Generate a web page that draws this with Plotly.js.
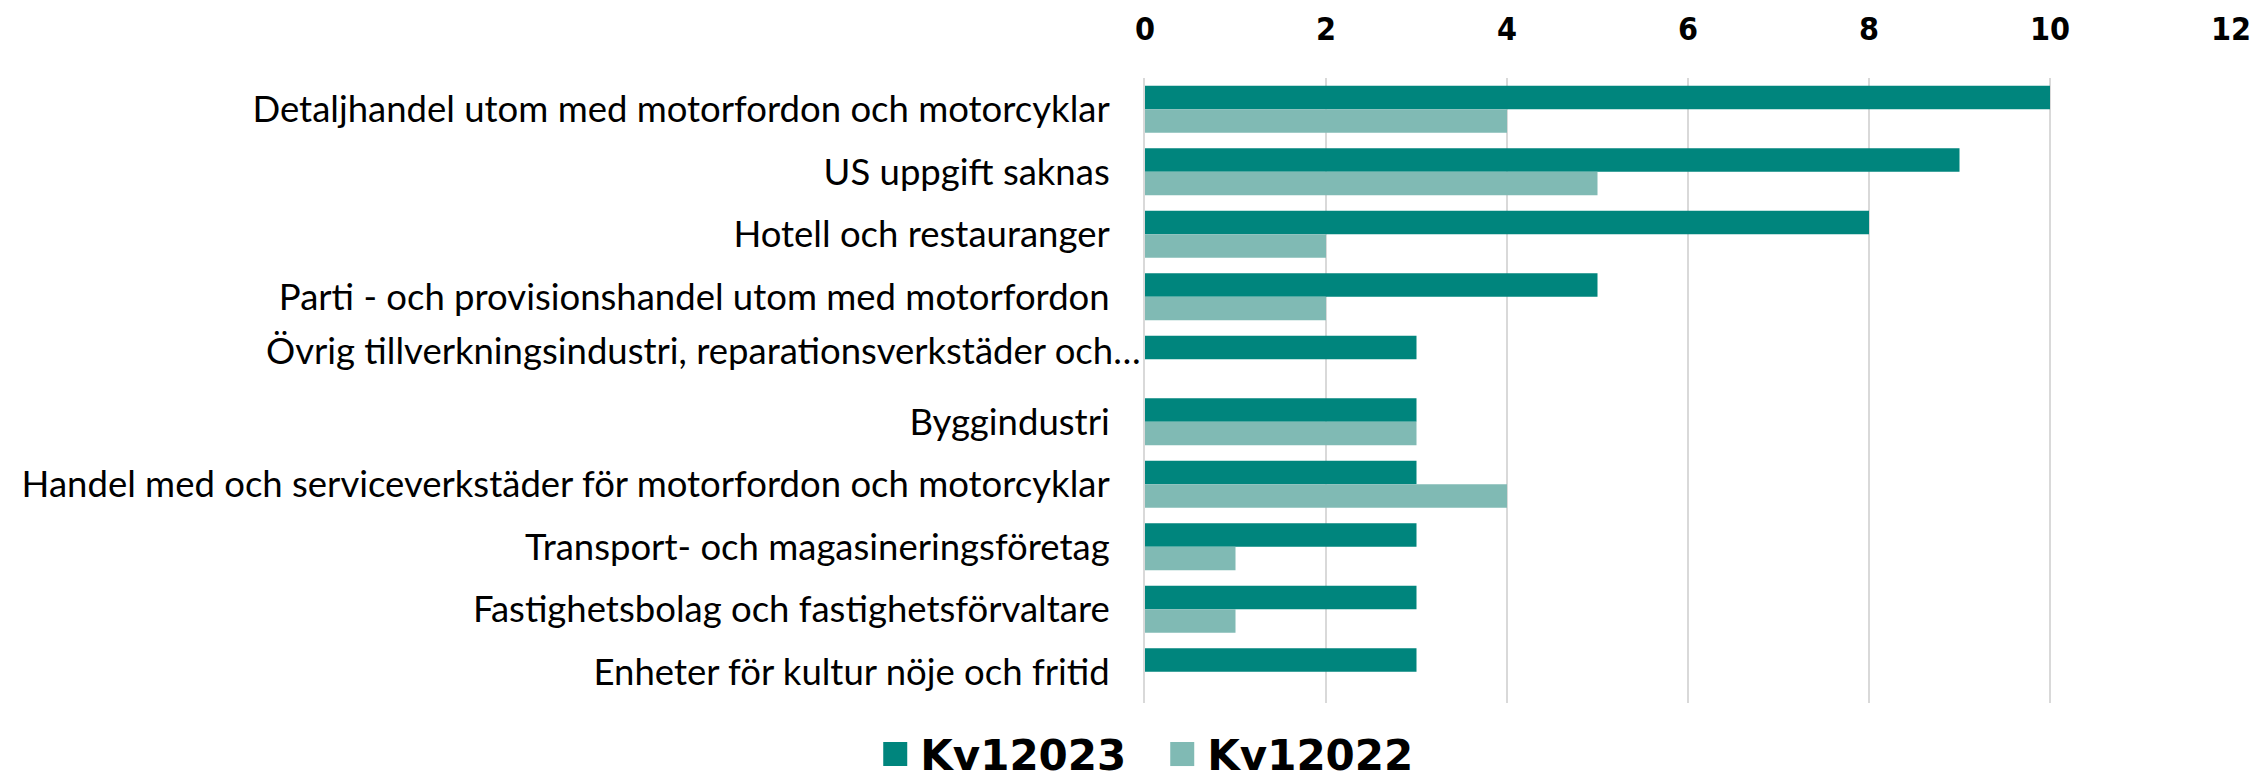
<!DOCTYPE html>
<html>
<head>
<meta charset="utf-8">
<script src="https://cdn.plot.ly/plotly-3.0.1.min.js"></script>
<style>html,body{margin:0;padding:0;background:#fff;}#chart{width:2257px;height:784px;}</style>
</head>
<body>
<div id="chart"></div>
<script>
const categories = [
  "Detaljhandel utom med motorfordon och motorcyklar",
  "US uppgift saknas",
  "Hotell och restauranger",
  "Parti - och provisionshandel utom med motorfordon",
  "Övrig tillverkningsindustri, reparationsverkstäder och…",
  "Byggindustri",
  "Handel med och serviceverkstäder för motorfordon och motorcyklar",
  "Transport- och magasineringsföretag",
  "Fastighetsbolag och fastighetsförvaltare",
  "Enheter för kultur nöje och fritid"
];
const kv12023 = [10, 9, 8, 5, 3, 3, 3, 3, 3, 3];
const kv12022 = [4, 5, 2, 2, 0, 3, 4, 1, 1, 0];
const seriesNames = ["Kv12023", "Kv12022"];
const xTicks = [0, 2, 4, 6, 8, 10, 12];

const colors = ["#00857D", "#80BAB4"];
const labelFont = {family: "Lato, 'Noto Sans', sans-serif", size: 36.5, color: "#000"};
const truncatedIdx = 4;

const traces = [kv12023, kv12022].map((vals, i) => ({
  type: "bar",
  orientation: "h",
  name: seriesNames[i],
  y: categories,
  x: vals,
  marker: {color: colors[i], line: {width: 0}},
  hoverinfo: "x+y"
}));

const layout = {
  width: 2257,
  height: 784,
  margin: {l: 1145, r: 26, t: 78, b: 81, pad: 0, autoexpand: false},
  paper_bgcolor: "#fff",
  plot_bgcolor: "#fff",
  barmode: "group",
  bargap: 0.25,
  bargroupgap: 0,
  showlegend: true,
  legend: {
    orientation: "h",
    x: -0.253,
    xanchor: "left",
    y: -0.082,
    yanchor: "middle",
    font: {family: "'DejaVu Sans', sans-serif", size: 42, color: "#000", weight: "bold"},
    itemwidth: 40,
    entrywidth: 232,
    entrywidthmode: "pixels",
    traceorder: "normal"
  },
  xaxis: {
    side: "top",
    range: [0, 12],
    tickvals: xTicks,
    ticktext: xTicks.map(String),
    showgrid: true,
    gridcolor: "#D9D9D9",
    gridwidth: 1.5,
    zeroline: false,
    showline: false,
    ticks: "",
    ticklabelstandoff: 31,
    tickfont: {family: "'DejaVu Sans Condensed', 'Liberation Sans Narrow', sans-serif", size: 32, color: "#000", weight: "bold"},
    fixedrange: true
  },
  yaxis: {
    type: "category",
    autorange: "reversed",
    tickvals: categories,
    ticktext: categories.map((c, i) => i === truncatedIdx ? "" : c),
    showgrid: false,
    zeroline: false,
    showline: true,
    linecolor: "#D9D9D9",
    linewidth: 2,
    ticks: "",
    ticklabelstandoff: 26,
    tickfont: labelFont,
    fixedrange: true
  },
  annotations: [{
    xref: "paper", yref: "y",
    x: 0, y: categories[truncatedIdx],
    xanchor: "right", yanchor: "middle",
    xshift: -2, yshift: 9,
    text: categories[truncatedIdx],
    showarrow: false,
    font: labelFont
  }]
};

Plotly.newPlot("chart", traces, layout, {displayModeBar: false, staticPlot: true}).then(() => {
  document.querySelectorAll(".legend .legendpoints path").forEach(p => {
    p.setAttribute("d", "M12,12H-12V-12H12Z");
  });
});
</script>
</body>
</html>
